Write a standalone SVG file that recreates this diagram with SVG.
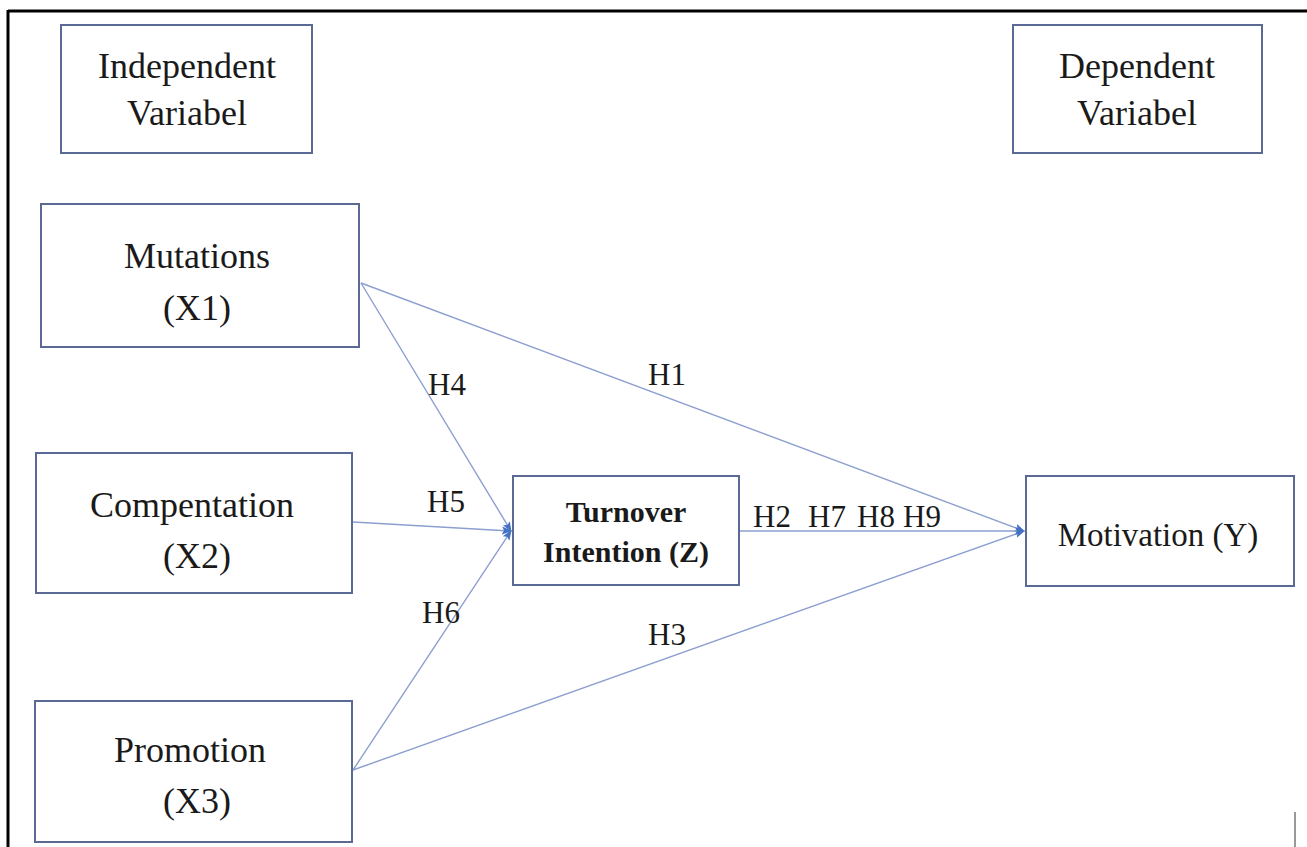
<svg xmlns="http://www.w3.org/2000/svg" width="1307" height="847" viewBox="0 0 1307 847">
<style>
.box{fill:#fff;stroke:#5a6a94;stroke-width:2}
.t{font-family:"Liberation Serif","Times New Roman",serif;font-size:36px;fill:#1a1a1a;text-anchor:middle}
.tb{font-family:"Liberation Serif","Times New Roman",serif;font-size:30px;font-weight:bold;fill:#1a1a1a;text-anchor:middle}
.h{font-family:"Liberation Serif","Times New Roman",serif;font-size:31px;fill:#1a1a1a}
.c{stroke:#8c9fd0;stroke-width:1.4;fill:none}
</style>
<defs>
<marker id="ah" viewBox="0 0 10 10" refX="9" refY="5" markerWidth="10" markerHeight="10" markerUnits="userSpaceOnUse" orient="auto">
<path d="M0,1 L10,5 L0,9 L2,5 z" fill="#4472c4"/>
</marker>
</defs>
<rect width="1307" height="847" fill="#fff"/>
<g id="frame">
<line x1="8" y1="11" x2="1307" y2="11" stroke="#000" stroke-width="3"/>
<line x1="8" y1="10" x2="8" y2="847" stroke="#000" stroke-width="3"/>
<line x1="1295" y1="812" x2="1295" y2="847" stroke="#999" stroke-width="2"/>
</g>
<g id="connectors">
<line class="c" x1="361" y1="283" x2="1024" y2="531" marker-end="url(#ah)"/>
<line class="c" x1="361" y1="283" x2="511" y2="531" marker-end="url(#ah)"/>
<line class="c" x1="353" y1="522" x2="511" y2="531" marker-end="url(#ah)"/>
<line class="c" x1="353" y1="770" x2="511" y2="531" marker-end="url(#ah)"/>
<line class="c" x1="353" y1="770" x2="1024" y2="531" marker-end="url(#ah)"/>
<line class="c" x1="740" y1="531" x2="1024" y2="531" marker-end="url(#ah)"/>
</g>
<g id="labels">
<text class="h" x="428" y="395">H4</text>
<text class="h" x="648" y="385">H1</text>
<text class="h" x="427" y="512">H5</text>
<text class="h" y="527"><tspan x="753">H2</tspan><tspan x="808">H7</tspan><tspan x="857">H8</tspan><tspan x="903">H9</tspan></text>
<text class="h" x="422" y="623">H6</text>
<text class="h" x="648" y="645">H3</text>
</g>
<g id="independent">
<rect class="box" x="61" y="25" width="251" height="128"/>
<text class="t" x="187" y="78">Independent</text>
<text class="t" x="187" y="125">Variabel</text>
</g>
<g id="dependent">
<rect class="box" x="1013" y="25" width="249" height="128"/>
<text class="t" x="1137" y="78">Dependent</text>
<text class="t" x="1137" y="125">Variabel</text>
</g>
<g id="mutations">
<rect class="box" x="41" y="204" width="318" height="143"/>
<text class="t" x="197" y="268">Mutations</text>
<text class="t" x="197" y="320">(X1)</text>
</g>
<g id="compentation">
<rect class="box" x="36" y="453" width="316" height="140"/>
<text class="t" x="192" y="517">Compentation</text>
<text class="t" x="197" y="568">(X2)</text>
</g>
<g id="promotion">
<rect class="box" x="35" y="701" width="317" height="141"/>
<text class="t" x="190" y="762">Promotion</text>
<text class="t" x="197" y="813">(X3)</text>
</g>
<g id="turnover">
<rect class="box" x="513" y="476" width="226" height="109"/>
<text class="tb" x="626" y="522">Turnover</text>
<text class="tb" x="626" y="562">Intention (Z)</text>
</g>
<g id="motivation">
<rect class="box" x="1026" y="476" width="268" height="110"/>
<text class="t" x="1158" y="546" style="font-size:33px">Motivation (Y)</text>
</g>
</svg>
